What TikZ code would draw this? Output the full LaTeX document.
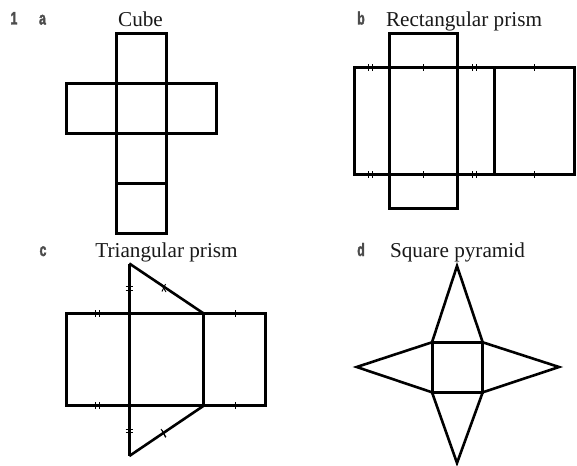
\documentclass[tikz,border=0pt]{standalone}
\usepackage{fontspec}
\setmainfont{Liberation Serif}
\newfontfamily\labfont{Liberation Sans}[FakeStretch=0.68,FakeBold=2,BoldFeatures={FakeStretch=0.68,FakeBold=2}]
\tikzset{
  net/.style={line width=3pt,line join=miter,black},
  slant/.style={line width=2.6pt,line join=miter,black},
  tick/.style={line width=0.9pt,black},
  ttl/.style={inner sep=0pt,anchor=base,font=\fontsize{21.2}{24}\selectfont,text=black!90},
  lab/.style={inner sep=0pt,anchor=base,font=\labfont\bfseries\fontsize{18}{20}\selectfont,text=black!70},
}
% one or two short marks across a horizontal edge / a vertical edge
\newcommand{\onev}[2]{\draw[tick] (#1,#2-3.5) -- (#1,#2+3.5);}
\newcommand{\twov}[2]{\draw[tick] (#1-1.7,#2-3.5) -- (#1-1.7,#2+3.5) (#1+1.7,#2-3.5) -- (#1+1.7,#2+3.5);}
\newcommand{\twoh}[2]{\draw[tick] (#1-3.8,#2-1.7) -- (#1+3.8,#2-1.7) (#1-3.8,#2+1.7) -- (#1+3.8,#2+1.7);}
\begin{document}
\begin{tikzpicture}[x=1pt,y=-1pt]
\useasboundingbox (0,0) rectangle (577,465);
\fill[white] (0,0) rectangle (577,465);
% labels
\node[lab] (n1) at (14,24.5) {1};
\node[lab] (la) at (42.5,24.5) {a};
\node[lab] (lb) at (361,24.5) {b};
\node[lab] (lc) at (43,256) {c};
\node[lab] (ld) at (361,256) {d};
\node[ttl] (ta) at (140.5,26.5) {Cube};
\node[ttl] (tb) at (464,27) {Rectangular prism};
\node[ttl] (tc) at (166.5,257) {Triangular prism};
\node[ttl] (td) at (457.5,257) {Square pyramid};
% a: cube
\draw[net] (116,34) rectangle (166,233);
\draw[net] (66,84) rectangle (216,134);
\draw[net] (116,84) -- (116,134) (166,84) -- (166,134);
\draw[net] (116,183) -- (166,183);
% b: rectangular prism
\draw[net] (389.5,34) rectangle (457,208);
\draw[net] (354,67.7) rectangle (574,174.5);
\draw[net] (494,67.7) -- (494,174.5);
\foreach \y in {67.7,174.5}{
  \twov{370.5}{\y}
  \onev{423}{\y}
  \twov{474.3}{\y}
  \onev{534}{\y}
}
% c: triangular prism
\draw[net] (66,313.5) rectangle (265.7,405.7);
\draw[net] (203.7,313.5) -- (203.7,405.7);
\draw[net] (129.3,263.5) -- (129.3,456);
\draw[slant] (129.3,456) -- (203.7,405.7);
\draw[slant] (129.3,263.5) -- (203.7,313.5);
\foreach \y in {313.5,405.7}{
  \twov{97.5}{\y}
  \onev{235}{\y}
}
\twoh{129.3}{288.5}
\twoh{129.3}{431}
\draw[tick] (161,284) -- (166,292);
\draw[tick] (161,429) -- (166,437);
\draw[tick] (165.5,284) -- (162,291.5);
\draw[tick] (165.5,437.5) -- (162,430);
% d: square pyramid
\draw[net] (432,342.3) rectangle (482.7,392.3);
\draw[slant] (432,342.3) -- (457,266) -- (482.7,342.3) -- (559,367) -- (482.7,392.3) -- (457,463) -- (432,392.3) -- (356.7,367) -- cycle;
\end{tikzpicture}
\end{document}
